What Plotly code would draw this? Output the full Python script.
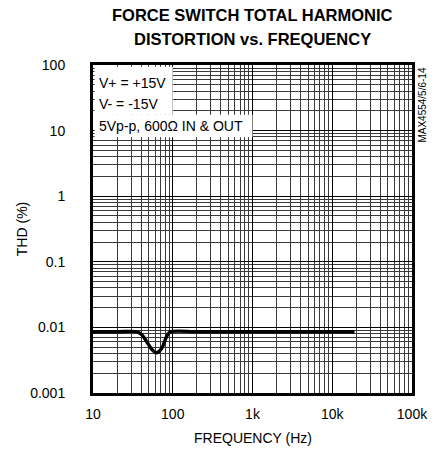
import plotly.graph_objects as go

# Data
freq_hz = [10, 20, 35, 41, 47, 54, 62, 72, 79, 86, 95, 200, 1000, 10000, 19000]
thd_pct = [0.0086, 0.0086, 0.0086, 0.0077, 0.0061, 0.0047, 0.0041, 0.0047,
           0.0061, 0.0077, 0.0086, 0.0086, 0.0086, 0.0086, 0.0086]

x_tickvals = [10, 100, 1000, 10000, 100000]
x_ticktext = ["10", "100", "1k", "10k", "100k"]
y_tickvals = [0.001, 0.01, 0.1, 1, 10, 100]
y_ticktext = ["0.001", "0.01", "0.1", "1", "10", "100"]

title_lines = ["FORCE SWITCH TOTAL HARMONIC", "DISTORTION vs. FREQUENCY"]
cond_lines = ["V+ = +15V", "V- = -15V", "5Vp-p, 600\u03a9 IN & OUT"]
x_title = "FREQUENCY (Hz)"
y_title = "THD (%)"
side_label = "MAX4554/5/6-14"

FONT = "Liberation Sans, Arial, Helvetica, sans-serif"

fig = go.Figure()
fig.add_trace(go.Scatter(
    x=freq_hz, y=thd_pct, mode="lines",
    line=dict(color="black", width=3.4, shape="spline", smoothing=0.8),
    showlegend=False, hoverinfo="skip",
))

axis_common = dict(
    type="log",
    showline=True, linecolor="black", linewidth=3, mirror=True,
    showgrid=True, gridcolor="black", gridwidth=1.2,
    ticks="", zeroline=False,
    tickfont=dict(family=FONT, size=14, color="black"),
    minor=dict(dtick="D1", showgrid=True, gridcolor="#3a3a3a", gridwidth=1, ticks=""),
)

fig.update_xaxes(range=[1, 5], tickvals=x_tickvals, ticktext=x_ticktext,
                 ticklabelstandoff=6, **axis_common)
fig.update_yaxes(range=[-3, 2], tickvals=y_tickvals, ticktext=y_ticktext,
                 ticklabelstandoff=22, **axis_common)

annotations = []
# Title
for txt, yp in zip(title_lines, [1.152, 1.078]):
    annotations.append(dict(text="<b>" + txt + "</b>", xref="paper", yref="paper",
                            x=0.5, y=yp, showarrow=False, xanchor="center", yanchor="middle",
                            font=dict(family=FONT, size=16.5, color="black")))
# Condition text
for txt, yp in zip(cond_lines, [0.945, 0.881, 0.814]):
    annotations.append(dict(text=txt, xref="paper", yref="paper", x=0.012, y=yp,
                            showarrow=False, xanchor="left", yanchor="middle",
                            font=dict(family=FONT, size=14, color="black")))
# Axis titles
annotations.append(dict(text=x_title, xref="paper", yref="paper", x=0.5, y=-0.137,
                        showarrow=False, xanchor="center", yanchor="middle",
                        font=dict(family=FONT, size=14, color="black")))
annotations.append(dict(text=y_title, xref="paper", yref="paper", x=-0.222, y=0.5,
                        showarrow=False, xanchor="center", yanchor="middle", textangle=-90,
                        font=dict(family=FONT, size=14, color="black")))
# Side label
annotations.append(dict(text=side_label, xref="paper", yref="paper", x=1.03, y=0.878,
                        showarrow=False, xanchor="center", yanchor="middle", textangle=-90,
                        font=dict(family=FONT, size=10, color="black")))

shapes = [
    dict(type="rect", xref="paper", yref="paper", x0=0.005, x1=0.25, y0=0.848, y1=0.995,
         fillcolor="white", line=dict(width=0), layer="above"),
    dict(type="rect", xref="paper", yref="paper", x0=0.005, x1=0.50, y0=0.78, y1=0.848,
         fillcolor="white", line=dict(width=0), layer="above"),
]

fig.update_layout(
    width=440, height=453,
    margin=dict(l=93, r=18, t=65, b=60),
    paper_bgcolor="white", plot_bgcolor="white",
    annotations=annotations, shapes=shapes,
    font=dict(family=FONT, color="black"),
)

# Remove the browser's default 8px body margin so the figure fills the window
fig.write_html("out.html",
               config={"displayModeBar": False, "staticPlot": True},
               post_script="document.body.style.margin='0';document.body.style.overflow='hidden';")
